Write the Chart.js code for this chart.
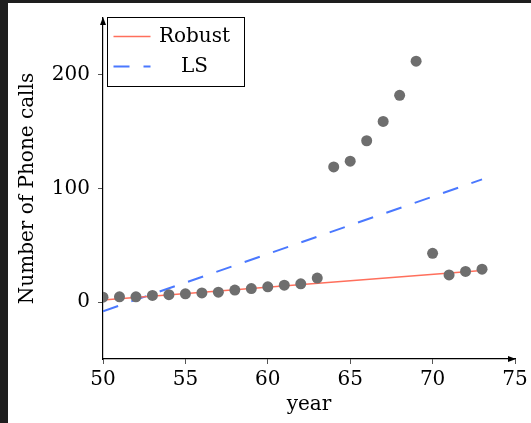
<!DOCTYPE html>
<html>
<head>
<meta charset="utf-8">
<script src="https://cdn.jsdelivr.net/npm/chart.js@4.4.0/dist/chart.umd.min.js"></script>
<style>
  html, body { margin: 0; padding: 0; background: #1e1e1e; width: 531px; height: 423px; overflow: hidden; }
  #wrap { position: absolute; left: 8px; top: 3px; width: 523px; height: 420px; background: #fff; }
</style>
</head>
<body>
<div id="wrap"><canvas id="myChart" width="523" height="420"></canvas></div>
<script>
// Belgian phone calls data
const years = [50, 51, 52, 53, 54, 55, 56, 57, 58, 59, 60, 61, 62, 63, 64, 65, 66, 67, 68, 69, 70, 71, 72, 73];
const calls = [4.4, 4.7, 4.7, 5.9, 6.6, 7.3, 8.1, 8.8, 10.6, 12.0, 13.5, 14.9, 16.1, 21.2, 119, 124, 142, 159, 182, 212, 43, 24, 27, 29];

// fitted lines (end points)
const fitX = [50, 73];
const robustY = [1.8, 27.8];
const lsY = [-8, 108];

const xTicks = [50, 55, 60, 65, 70, 75];
const yTicks = [0, 100, 200];

const serif = 'DejaVu Serif';

function pts(xs, ys) {
	return xs.map((x, i) => ({ x: x, y: ys[i] }));
}

// pgfplots style axis arrows
const arrows = {
	id: 'arrows',
	afterDraw(chart) {
		const c = chart.ctx, a = chart.chartArea;
		c.save();
		c.fillStyle = '#000';
		c.beginPath();
		c.moveTo(a.left, a.top - 1);
		c.lineTo(a.left - 3, a.top + 7);
		c.lineTo(a.left + 3, a.top + 7);
		c.closePath();
		c.fill();
		c.beginPath();
		c.moveTo(a.right + 1, a.bottom);
		c.lineTo(a.right - 7, a.bottom - 3);
		c.lineTo(a.right - 7, a.bottom + 3);
		c.closePath();
		c.fill();
		c.restore();
	}
};

// legend box in the upper left corner
const boxLegend = {
	id: 'boxLegend',
	afterDraw(chart) {
		const c = chart.ctx, a = chart.chartArea;
		const x0 = a.left + 4.5, y0 = a.top - 0.5;
		c.save();
		c.fillStyle = '#fff';
		c.fillRect(x0, y0, 137, 69);
		c.strokeStyle = '#000';
		c.lineWidth = 1;
		c.strokeRect(x0, y0, 137, 69);
		const rows = [chart.data.datasets[1], chart.data.datasets[2]];
		rows.forEach((ds, i) => {
			const y = y0 + 19 + i * 30;
			c.beginPath();
			c.strokeStyle = ds.borderColor;
			c.lineWidth = ds.borderWidth;
			c.setLineDash(ds.borderDash || []);
			c.moveTo(x0 + 6, y);
			c.lineTo(x0 + 43, y);
			c.stroke();
			c.setLineDash([]);
			c.fillStyle = '#000';
			c.font = '20px "' + serif + '"';
			c.textAlign = 'center';
			c.textBaseline = 'middle';
			c.fillText(ds.label, x0 + 87, y);
		});
		c.restore();
	}
};

const ctx = document.getElementById('myChart').getContext('2d');
const myChart = new Chart(ctx, {
	type: 'scatter',
	data: {
		datasets: [{
			label: 'data',
			data: pts(years, calls),
			backgroundColor: '#6e6e6e',
			borderWidth: 0,
			pointRadius: 5.5,
			showLine: false
		}, {
			label: 'Robust',
			data: pts(fitX, robustY),
			showLine: true,
			borderColor: '#ff6f5c',
			borderWidth: 1.5,
			pointRadius: 0
		}, {
			label: 'LS',
			data: pts(fitX, lsY),
			showLine: true,
			borderColor: '#4a78ff',
			borderWidth: 2,
			borderDash: [16, 14],
			pointRadius: 0
		}]
	},
	options: {
		responsive: false,
		animation: false,
		devicePixelRatio: 1,
		layout: { padding: { left: 0, right: 16, top: 15, bottom: 0 } },
		plugins: {
			legend: { display: false },
			tooltip: { enabled: false }
		},
		scales: {
			x: {
				type: 'linear',
				min: 50,
				max: 75,
				afterBuildTicks: s => { s.ticks = xTicks.map(v => ({ value: v })); },
				afterFit: s => { s.height = 64; s.paddingLeft = 0; s.paddingRight = 0; },
				border: { display: true, color: '#000', width: 1.2 },
				grid: { drawOnChartArea: false, drawTicks: true, tickLength: 5, color: '#555' },
				ticks: { color: '#000', padding: 4, maxRotation: 0, font: { family: serif, size: 20 } },
				title: { display: true, text: 'year', color: '#000', padding: { top: 0, bottom: 6 }, font: { family: serif, size: 20 } }
			},
			y: {
				type: 'linear',
				min: -50,
				max: 250,
				afterBuildTicks: s => { s.ticks = yTicks.map(v => ({ value: v })); },
				afterFit: s => { s.width = 95; s.paddingTop = 0; s.paddingBottom = 0; },
				border: { display: true, color: '#000', width: 1.2 },
				grid: { drawOnChartArea: false, drawTicks: true, tickLength: 5, color: '#555' },
				ticks: { color: '#000', padding: 8, font: { family: serif, size: 20 } },
				title: { display: true, text: 'Number of Phone calls', color: '#000', padding: { top: 8, bottom: 0 }, font: { family: serif, size: 20 } }
			}
		}
	},
	plugins: [arrows, boxLegend]
});
</script>
</body>
</html>
